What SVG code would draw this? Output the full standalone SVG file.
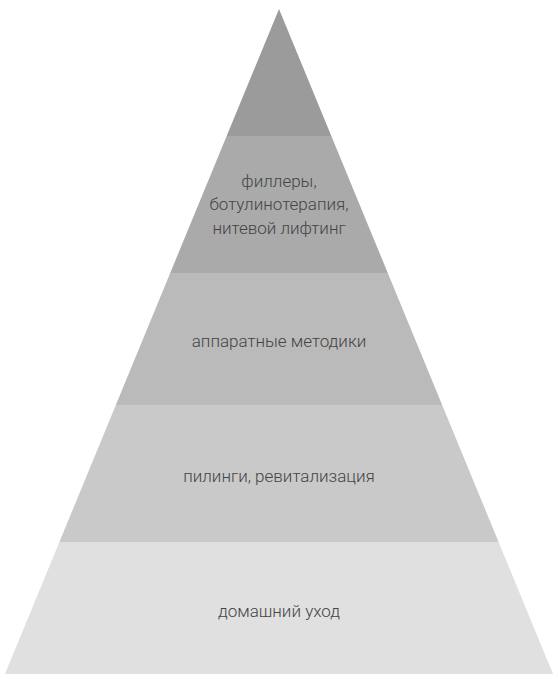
<svg xmlns="http://www.w3.org/2000/svg" width="558" height="679" viewBox="0 0 558 679">
<style>
text{font-family:Roboto,"Liberation Sans",sans-serif;font-weight:300;font-size:17px;fill:#444;text-anchor:middle}
</style>
<rect width="558" height="679" fill="#ffffff"/>
<g id="level1"><polygon points="279,9 331.33,136 226.67,136" fill="#9b9b9b"/></g>
<g id="level2"><polygon points="226.67,136 331.33,136 387.78,273 170.22,273" fill="#aaaaaa"/>
<text x="279" y="186.5">филлеры,</text>
<text x="279" y="210">ботулинотерапия,</text>
<text x="279" y="233.5">нитевой лифтинг</text></g>
<g id="level3"><polygon points="170.22,273 387.78,273 442.16,405 115.84,405" fill="#bababa"/>
<text x="279" y="346.5">аппаратные методики</text></g>
<g id="level4"><polygon points="115.84,405 442.16,405 498.61,542 59.39,542" fill="#c9c9c9"/>
<text x="279" y="481.5">пилинги, ревитализация</text></g>
<g id="level5"><polygon points="59.39,542 498.61,542 553,674 5,674" fill="#e0e0e0"/>
<text x="279" y="616.5">домашний уход</text></g>
<g id="connectors"/>
</svg>
